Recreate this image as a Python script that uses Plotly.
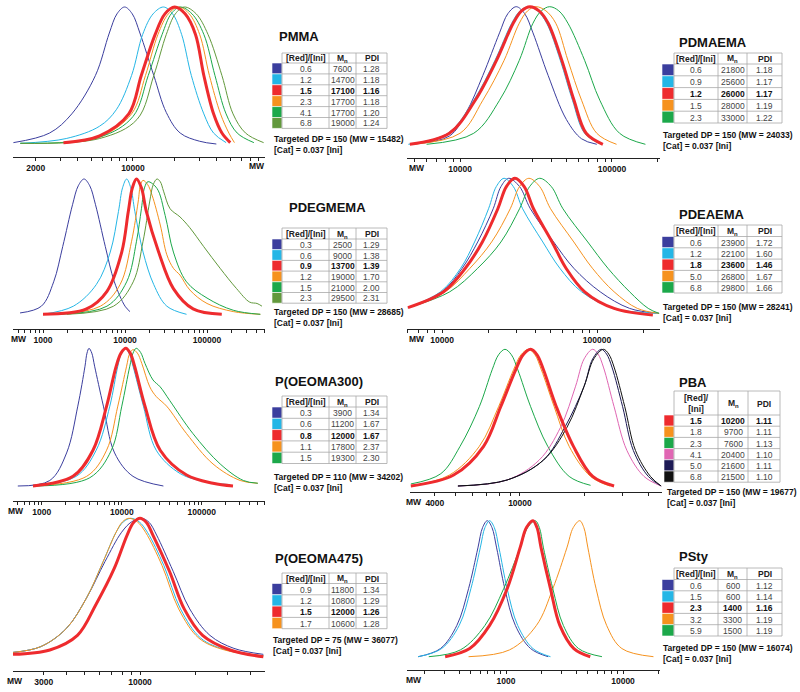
import numpy as np
import plotly.graph_objects as go

W, H = 800, 692
FONT = "Arial, Liberation Sans, sans-serif"
COLORS = dict(blue="#3B3E9E", cyan="#25B6E6", red="#EE2B2E", orange="#F6921E",
              green="#1CA84A", olive="#62993C", pink="#E066B3", navy="#1D1A55", black="#111111")

table_header = ["[Red]/[Ini]", "M<sub>n</sub>", "PDI"]
cat_text = "[Cat] = 0.037 [Ini]"

# ---------------- PMMA ----------------
pmma_ratio = ["0.6", "1.2", "1.5", "2.3", "4.1", "6.8"]
pmma_mn = ["7600", "14700", "17100", "17700", "17700", "19000"]
pmma_pdi = ["1.28", "1.18", "1.16", "1.18", "1.20", "1.24"]
pmma_color = ["blue", "cyan", "red", "orange", "green", "olive"]
pmma_logmw = [
    [3.14, 3.40, 3.56, 3.73, 3.83, 3.885, 3.94, 3.995, 4.05, 4.15, 4.24, 4.34, 4.48, 4.60],
    [3.19, 3.52, 3.76, 3.88, 3.99, 4.07, 4.145, 4.22, 4.285, 4.35, 4.42, 4.51, 4.58, 4.67],
    [3.50, 3.76, 3.97, 4.06, 4.16, 4.23, 4.30, 4.375, 4.45, 4.51, 4.58, 4.64, 4.70],
    [3.50, 3.76, 3.99, 4.09, 4.18, 4.255, 4.33, 4.405, 4.48, 4.55, 4.63, 4.69, 4.73],
    [3.19, 3.76, 4.00, 4.11, 4.21, 4.275, 4.34, 4.425, 4.51, 4.59, 4.67, 4.75, 4.87],
    [3.19, 3.76, 4.03, 4.15, 4.24, 4.305, 4.37, 4.455, 4.54, 4.64, 4.72, 4.81, 4.94],
]
pmma_int = [
    [0.01, 0.08, 0.22, 0.5, 0.81, 0.95, 1, 0.95, 0.81, 0.5, 0.23, 0.08, 0.02, 0.0],
    [0.005, 0.04, 0.13, 0.25, 0.5, 0.8, 0.95, 1, 0.95, 0.8, 0.5, 0.22, 0.08, 0.01],
    [0.01, 0.06, 0.22, 0.5, 0.8, 0.95, 1, 0.95, 0.8, 0.5, 0.22, 0.08, 0.01],
    [0.01, 0.05, 0.22, 0.5, 0.8, 0.95, 1, 0.95, 0.8, 0.5, 0.22, 0.08, 0.01],
    [0.005, 0.05, 0.2, 0.5, 0.8, 0.95, 1, 0.95, 0.8, 0.5, 0.22, 0.08, 0.01],
    [0.005, 0.04, 0.18, 0.5, 0.8, 0.95, 1, 0.95, 0.8, 0.5, 0.22, 0.08, 0.01],
]
pmma_ticks = [2000, 10000]
pmma_target = ("150", "15482")

# ---------------- PDMAEMA ----------------
pdmaema_ratio = ["0.6", "0.9", "1.2", "1.5", "2.3"]
pdmaema_mn = ["21800", "25600", "26000", "28000", "33000"]
pdmaema_pdi = ["1.18", "1.17", "1.17", "1.19", "1.22"]
pdmaema_color = ["blue", "cyan", "red", "orange", "green"]
pdmaema_logmw = [
    [3.67, 3.93, 4.04, 4.15, 4.26, 4.315, 4.37, 4.425, 4.48, 4.58, 4.70, 4.80, 4.90],
    [3.66, 3.92, 4.09, 4.23, 4.34, 4.395, 4.45, 4.51, 4.57, 4.66, 4.74, 4.82, 4.93],
    [3.67, 3.93, 4.10, 4.24, 4.35, 4.405, 4.46, 4.52, 4.58, 4.67, 4.75, 4.83, 4.94],
    [3.69, 4.00, 4.15, 4.29, 4.39, 4.445, 4.50, 4.565, 4.63, 4.71, 4.80, 4.90, 5.03],
    [3.78, 4.09, 4.26, 4.39, 4.48, 4.535, 4.59, 4.65, 4.71, 4.82, 4.92, 5.05, 5.22],
]
pdmaema_int = [
    [0, 0.06, 0.23, 0.5, 0.81, 0.95, 1, 0.95, 0.81, 0.5, 0.18, 0.04, 0],
    [0, 0.08, 0.32, 0.61, 0.88, 0.97, 1, 0.97, 0.88, 0.61, 0.32, 0.08, 0],
    [0, 0.08, 0.32, 0.61, 0.88, 0.97, 1, 0.97, 0.88, 0.61, 0.32, 0.08, 0],
    [0, 0.08, 0.32, 0.61, 0.88, 0.97, 1, 0.97, 0.88, 0.61, 0.32, 0.08, 0],
    [0, 0.08, 0.32, 0.61, 0.88, 0.97, 1, 0.97, 0.88, 0.61, 0.32, 0.08, 0],
]
pdmaema_ticks = [10000, 100000]
pdmaema_target = ("150", "24033")

# ---------------- PDEGMEMA ----------------
pdegmema_ratio = ["0.3", "0.6", "0.9", "1.2", "1.5", "2.3"]
pdegmema_mn = ["2500", "9000", "13700", "19000", "21000", "29500"]
pdegmema_pdi = ["1.29", "1.38", "1.39", "1.70", "2.00", "2.31"]
pdegmema_color = ["blue", "cyan", "red", "orange", "green", "olive"]
pdegmema_logmw = [
    [2.72, 2.98, 3.13, 3.24, 3.36, 3.43, 3.50, 3.57, 3.64, 3.76, 3.87, 4.00, 4.06],
    [3.00, 3.37, 3.65, 3.82, 3.92, 3.97, 4.02, 4.07, 4.12, 4.22, 4.35, 4.51, 4.75],
    [3.00, 3.53, 3.78, 3.96, 4.04, 4.09, 4.14, 4.20, 4.26, 4.41, 4.59, 4.83, 5.18],
    [3.17, 3.70, 3.94, 4.08, 4.16, 4.19, 4.22, 4.275, 4.33, 4.43, 4.51, 4.59, 4.67, 4.79, 5.00, 5.32, 5.65],
    [3.21, 3.78, 4.02, 4.14, 4.20, 4.24, 4.28, 4.39, 4.49, 4.59, 4.75, 5.00, 5.32, 5.65],
    [3.29, 3.86, 4.10, 4.22, 4.30, 4.345, 4.39, 4.43, 4.47, 4.55, 4.67, 4.79, 4.96, 5.16, 5.36, 5.52, 5.61, 5.67],
]
pdegmema_int = [
    [0.01, 0.06, 0.24, 0.5, 0.81, 0.95, 1, 0.95, 0.81, 0.5, 0.24, 0.06, 0.02],
    [0, 0.06, 0.22, 0.46, 0.76, 0.935, 1, 0.935, 0.76, 0.46, 0.22, 0.06, 0],
    [0, 0.04, 0.17, 0.46, 0.76, 0.935, 1, 0.935, 0.76, 0.46, 0.19, 0.04, 0],
    [0, 0.06, 0.22, 0.54, 0.83, 0.96, 0.99, 0.96, 0.88, 0.66, 0.44, 0.34, 0.29, 0.18, 0.08, 0.02, 0],
    [0, 0.06, 0.24, 0.54, 0.78, 0.94, 0.98, 0.93, 0.73, 0.46, 0.24, 0.12, 0.03, 0],
    [0, 0.06, 0.24, 0.54, 0.83, 0.96, 1, 0.98, 0.91, 0.78, 0.72, 0.64, 0.50, 0.34, 0.19, 0.09, 0.08, 0.06],
]
pdegmema_ticks = [1000, 10000, 100000]
pdegmema_target = ("150", "28685")

# ---------------- PDEAEMA ----------------
pdeaema_ratio = ["0.6", "1.2", "1.8", "5.0", "6.8"]
pdeaema_mn = ["23900", "22100", "23600", "26800", "29800"]
pdeaema_pdi = ["1.72", "1.60", "1.46", "1.67", "1.66"]
pdeaema_color = ["blue", "cyan", "red", "orange", "green"]
pdeaema_logmw = [
    [3.78, 4.00, 4.13, 4.23, 4.33, 4.38, 4.43, 4.50, 4.57, 4.72, 4.85, 5.02, 5.21, 5.40],
    [3.78, 3.99, 4.12, 4.21, 4.30, 4.35, 4.40, 4.46, 4.52, 4.65, 4.76, 4.90, 5.11, 5.40],
    [3.78, 4.01, 4.15, 4.26, 4.36, 4.415, 4.47, 4.53, 4.59, 4.71, 4.80, 4.92, 5.11, 5.36],
    [3.78, 4.02, 4.18, 4.32, 4.44, 4.50, 4.56, 4.63, 4.70, 4.85, 4.97, 5.11, 5.26, 5.40],
    [3.78, 4.05, 4.23, 4.38, 4.50, 4.565, 4.63, 4.705, 4.78, 4.94, 5.07, 5.21, 5.33, 5.40],
]
pdeaema_int = [
    [0.065, 0.18, 0.35, 0.54, 0.78, 0.94, 1, 0.94, 0.78, 0.54, 0.35, 0.18, 0.06, 0.024],
    [0.065, 0.18, 0.35, 0.54, 0.78, 0.94, 1, 0.94, 0.78, 0.54, 0.35, 0.18, 0.06, 0.024],
    [0.065, 0.18, 0.35, 0.54, 0.78, 0.94, 1, 0.94, 0.78, 0.54, 0.35, 0.18, 0.06, 0.012],
    [0.065, 0.18, 0.35, 0.54, 0.78, 0.94, 1, 0.94, 0.78, 0.54, 0.35, 0.18, 0.06, 0.024],
    [0.065, 0.18, 0.35, 0.54, 0.78, 0.94, 1, 0.94, 0.78, 0.54, 0.35, 0.18, 0.06, 0.024],
]
pdeaema_ticks = [10000, 100000]
pdeaema_target = ("150", "28241")

# ---------------- P(OEOMA300) ----------------
oeoma300_ratio = ["0.3", "0.6", "0.8", "1.1", "1.5"]
oeoma300_mn = ["3900", "11200", "12000", "17800", "19300"]
oeoma300_pdi = ["1.34", "1.67", "1.67", "2.37", "2.30"]
oeoma300_color = ["blue", "cyan", "red", "orange", "green"]
oeoma300_logmw = [
    [2.70, 3.10, 3.31, 3.45, 3.54, 3.565, 3.59, 3.625, 3.66, 3.77, 3.91, 4.14, 4.52],
    [2.89, 3.43, 3.68, 3.85, 3.95, 3.995, 4.04, 4.09, 4.14, 4.27, 4.43, 4.73, 5.06, 5.35],
    [2.89, 3.39, 3.64, 3.81, 3.93, 3.99, 4.05, 4.105, 4.16, 4.29, 4.48, 4.81, 5.14, 5.39],
    [2.89, 3.56, 3.81, 3.95, 4.06, 4.10, 4.14, 4.195, 4.25, 4.35, 4.43, 4.56, 4.81, 5.14, 5.48, 5.70],
    [2.93, 3.60, 3.87, 4.00, 4.10, 4.14, 4.18, 4.235, 4.29, 4.39, 4.48, 4.60, 4.89, 5.23, 5.52, 5.70],
]
oeoma300_int = [
    [0, 0.04, 0.24, 0.58, 0.87, 0.965, 1, 0.965, 0.87, 0.58, 0.24, 0.07, 0],
    [0, 0.07, 0.26, 0.58, 0.87, 0.965, 1, 0.965, 0.87, 0.58, 0.26, 0.09, 0.03, 0.01],
    [0, 0.07, 0.26, 0.58, 0.87, 0.965, 1, 0.965, 0.87, 0.58, 0.26, 0.08, 0.02, 0],
    [0, 0.07, 0.26, 0.58, 0.87, 0.965, 0.99, 0.965, 0.89, 0.72, 0.65, 0.58, 0.38, 0.16, 0.04, 0.02],
    [0, 0.06, 0.26, 0.58, 0.87, 0.965, 1, 0.97, 0.89, 0.77, 0.72, 0.62, 0.38, 0.16, 0.04, 0.02],
]
oeoma300_ticks = [1000, 10000, 100000]
oeoma300_target = ("110", "34202")

# ---------------- PBA ----------------
pba_ratio = ["1.5", "1.8", "2.3", "4.1", "5.0", "6.8"]
pba_mn = ["10200", "9700", "7600", "20400", "21600", "21500"]
pba_pdi = ["1.11", "1.11", "1.13", "1.10", "1.11", "1.10"]
pba_color = ["red", "orange", "green", "pink", "navy", "black"]
pba_logmw = [
    [3.49, 3.69, 3.83, 3.91, 3.98, 4.015, 4.05, 4.08, 4.11, 4.17, 4.25, 4.34, 4.44],
    [3.49, 3.67, 3.81, 3.90, 3.97, 4.005, 4.04, 4.07, 4.10, 4.16, 4.23, 4.33, 4.42],
    [3.49, 3.63, 3.72, 3.81, 3.87, 3.90, 3.93, 3.96, 3.99, 4.05, 4.13, 4.23, 4.33],
    [3.71, 3.94, 4.09, 4.19, 4.26, 4.30, 4.34, 4.365, 4.39, 4.44, 4.50, 4.58, 4.66],
    [3.71, 3.94, 4.11, 4.21, 4.30, 4.34, 4.38, 4.405, 4.43, 4.48, 4.53, 4.60, 4.66],
    [3.71, 3.94, 4.11, 4.22, 4.30, 4.345, 4.39, 4.415, 4.44, 4.49, 4.54, 4.61, 4.66],
]
pba_int = [
    [0, 0.08, 0.29, 0.58, 0.85, 0.96, 1, 0.96, 0.85, 0.58, 0.29, 0.07, 0],
    [0, 0.08, 0.29, 0.58, 0.85, 0.96, 1, 0.96, 0.85, 0.58, 0.29, 0.07, 0],
    [0.015, 0.09, 0.29, 0.58, 0.85, 0.96, 1, 0.96, 0.85, 0.58, 0.29, 0.07, 0.005],
    [0, 0.044, 0.19, 0.43, 0.73, 0.93, 1, 0.965, 0.87, 0.58, 0.26, 0.07, 0],
    [0, 0.044, 0.19, 0.43, 0.73, 0.93, 1, 0.965, 0.87, 0.58, 0.26, 0.07, 0],
    [0, 0.044, 0.19, 0.43, 0.73, 0.93, 1, 0.965, 0.87, 0.58, 0.26, 0.07, 0],
]
pba_ticks = [4000, 10000]
pba_target = ("150", "19677")

# ---------------- P(OEOMA475) ----------------
oeoma475_ratio = ["0.9", "1.2", "1.5", "1.7"]
oeoma475_mn = ["11800", "10800", "12000", "10600"]
oeoma475_pdi = ["1.34", "1.29", "1.26", "1.28"]
oeoma475_color = ["blue", "cyan", "red", "orange"]
oeoma475_logmw = [
    [3.31, 3.46, 3.60, 3.71, 3.81, 3.90, 3.955, 4.01, 4.05, 4.09, 4.18, 4.27, 4.38, 4.51, 4.67],
    [3.31, 3.46, 3.60, 3.71, 3.80, 3.87, 3.91, 3.95, 3.995, 4.04, 4.13, 4.22, 4.33, 4.47, 4.67],
    [3.31, 3.51, 3.66, 3.76, 3.86, 3.93, 3.965, 4.00, 4.035, 4.07, 4.16, 4.24, 4.34, 4.49, 4.67],
    [3.31, 3.46, 3.60, 3.71, 3.80, 3.87, 3.905, 3.94, 3.985, 4.03, 4.12, 4.21, 4.32, 4.46, 4.67],
]
oeoma475_int = [
    [0.038, 0.079, 0.21, 0.43, 0.69, 0.90, 0.975, 1, 0.97, 0.88, 0.62, 0.35, 0.16, 0.067, 0.024],
    [0.038, 0.079, 0.21, 0.43, 0.69, 0.90, 0.975, 1, 0.975, 0.90, 0.66, 0.35, 0.14, 0.055, 0.014],
    [0.024, 0.055, 0.16, 0.38, 0.64, 0.88, 0.97, 1, 0.97, 0.88, 0.62, 0.35, 0.16, 0.055, 0.007],
    [0.038, 0.079, 0.21, 0.43, 0.69, 0.90, 0.975, 1, 0.975, 0.90, 0.66, 0.35, 0.14, 0.055, 0.014],
]
oeoma475_ticks = [3000, 10000]
oeoma475_target = ("75", "36077")

# ---------------- PSty ----------------
psty_ratio = ["0.6", "1.5", "2.3", "3.2", "5.9"]
psty_mn = ["600", "600", "1400", "3300", "1500"]
psty_pdi = ["1.12", "1.14", "1.16", "1.19", "1.19"]
psty_color = ["blue", "cyan", "red", "orange", "green"]
psty_logmw = [
    [2.25, 2.44, 2.58, 2.68, 2.76, 2.80, 2.84, 2.88, 2.92, 2.99, 3.08, 3.21, 3.36],
    [2.25, 2.45, 2.60, 2.70, 2.78, 2.82, 2.86, 2.90, 2.94, 3.01, 3.10, 3.23, 3.38],
    [2.48, 2.69, 2.86, 3.01, 3.12, 3.175, 3.23, 3.265, 3.30, 3.38, 3.46, 3.58, 3.72],
    [2.68, 3.03, 3.26, 3.40, 3.52, 3.575, 3.63, 3.665, 3.70, 3.77, 3.86, 3.99, 4.26],
    [2.34, 2.61, 2.82, 2.98, 3.12, 3.185, 3.25, 3.285, 3.32, 3.40, 3.49, 3.62, 3.82],
]
psty_int = [
    [0, 0.06, 0.23, 0.5, 0.8, 0.95, 1, 0.95, 0.8, 0.5, 0.23, 0.06, 0],
    [0, 0.06, 0.23, 0.5, 0.8, 0.95, 1, 0.95, 0.8, 0.5, 0.23, 0.06, 0],
    [0, 0.06, 0.23, 0.5, 0.8, 0.95, 1, 0.95, 0.8, 0.5, 0.23, 0.06, 0],
    [0, 0.05, 0.23, 0.5, 0.8, 0.95, 1, 0.95, 0.8, 0.5, 0.23, 0.06, 0],
    [0, 0.05, 0.23, 0.5, 0.8, 0.95, 1, 0.95, 0.8, 0.5, 0.23, 0.06, 0],
]
psty_ticks = [1000, 10000]
psty_target = ("150", "16074")

# ---------------- layout geometry (pixels) ----------------
LEFT_TAB = [272, 282, 329, 356, 387]
RIGHT_TAB = [662, 674, 718, 747, 782]
GEO = {
    "PMMA": dict(x=(13, 265), y=(3, 157), base=144, peak=7, xr=(3.137, 4.95), mwx=257,
                 title=(277, 37), tab=LEFT_TAB, ttop=53, hh=10, rh=10.9, txt=(272, 138.5, 150)),
    "PDMAEMA": dict(x=(407, 660), y=(3, 158), base=144.3, peak=6.7, xr=(3.651, 5.316), mwx=417,
                    title=(677, 43), tab=RIGHT_TAB, ttop=53, hh=11, rh=11.8, txt=(661, 135, 146)),
    "PDEGMEMA": dict(x=(13, 265), y=(176, 329), base=314.3, peak=179, xr=(2.634, 5.707), mwx=19,
                     title=(287, 207), tab=LEFT_TAB, ttop=228, hh=11, rh=10.7, txt=(272, 312, 322.5)),
    "PDEAEMA": dict(x=(407, 660), y=(176, 329), base=316.7, peak=178.3, xr=(3.774, 5.406), mwx=417,
                    title=(677, 214), tab=RIGHT_TAB, ttop=225, hh=11.5, rh=11.3, txt=(661, 307, 318)),
    "P(OEOMA300)": dict(x=(13, 265), y=(345, 501), base=486, peak=348.3, xr=(2.64, 5.79), mwx=16,
                        title=(273, 381), tab=LEFT_TAB, ttop=396, hh=11, rh=11.3, txt=(272, 477, 488)),
    "PBA": dict(x=(410, 662), y=(345, 492), base=486, peak=349.3, xr=(3.486, 4.664), mwx=414,
                title=(677, 382), tab=[664, 674, 718, 748, 780], ttop=391, hh=24, rh=11.2, txt=(665, 492, 503)),
    "P(OEOMA475)": dict(x=(13, 265), y=(515, 671), base=657.7, peak=518.3, xr=(3.31, 4.679), mwx=15,
                        title=(273, 558), tab=LEFT_TAB, ttop=573, hh=10.5, rh=11.3, txt=(271, 639.5, 651)),
    "PSty": dict(x=(407, 660), y=(515, 670), base=656.7, peak=520.7, xr=(2.154, 4.316), mwx=414,
                 title=(677, 556), tab=RIGHT_TAB, ttop=568, hh=11.5, rh=11.3, txt=(661, 648, 659)),
}

PANELS = [
    ("PMMA", pmma_ratio, pmma_mn, pmma_pdi, pmma_color, pmma_logmw, pmma_int, pmma_ticks, pmma_target),
    ("PDMAEMA", pdmaema_ratio, pdmaema_mn, pdmaema_pdi, pdmaema_color, pdmaema_logmw, pdmaema_int, pdmaema_ticks, pdmaema_target),
    ("PDEGMEMA", pdegmema_ratio, pdegmema_mn, pdegmema_pdi, pdegmema_color, pdegmema_logmw, pdegmema_int, pdegmema_ticks, pdegmema_target),
    ("PDEAEMA", pdeaema_ratio, pdeaema_mn, pdeaema_pdi, pdeaema_color, pdeaema_logmw, pdeaema_int, pdeaema_ticks, pdeaema_target),
    ("P(OEOMA300)", oeoma300_ratio, oeoma300_mn, oeoma300_pdi, oeoma300_color, oeoma300_logmw, oeoma300_int, oeoma300_ticks, oeoma300_target),
    ("PBA", pba_ratio, pba_mn, pba_pdi, pba_color, pba_logmw, pba_int, pba_ticks, pba_target),
    ("P(OEOMA475)", oeoma475_ratio, oeoma475_mn, oeoma475_pdi, oeoma475_color, oeoma475_logmw, oeoma475_int, oeoma475_ticks, oeoma475_target),
    ("PSty", psty_ratio, psty_mn, psty_pdi, psty_color, psty_logmw, psty_int, psty_ticks, psty_target),
]


def PX(x):
    return x / W


def PY(y):
    return 1 - y / H


fig = go.Figure()
layout = {}
shapes = []
annotations = []
GRID = "#A8A8A8"


def ann(text, x, y, size=8.5, xanchor="center", color="#222"):
    annotations.append(dict(text=text, x=PX(x), y=PY(y), xref="paper", yref="paper",
                            showarrow=False, xanchor=xanchor, yanchor="middle",
                            font=dict(family=FONT, size=size, color=color)))


def hline(x0, x1, y):
    shapes.append(dict(type="line", xref="paper", yref="paper", x0=PX(x0), x1=PX(x1),
                       y0=PY(y), y1=PY(y), line=dict(color=GRID, width=0.8)))


def vline(x, y0, y1):
    shapes.append(dict(type="line", xref="paper", yref="paper", x0=PX(x), x1=PX(x),
                       y0=PY(y0), y1=PY(y1), line=dict(color=GRID, width=0.8)))


for i, (name, ratio, mn, pdi, color, logmw, inten, ticks, target) in enumerate(PANELS, start=1):
    g = GEO[name]
    xa = "x" if i == 1 else f"x{i}"
    ya = "y" if i == 1 else f"y{i}"
    xkey = "xaxis" if i == 1 else f"xaxis{i}"
    ykey = "yaxis" if i == 1 else f"yaxis{i}"
    x0, x1 = g["x"]
    top, bot = g["y"]
    scale = g["base"] - g["peak"]
    yr = [-(bot - g["base"]) / scale, 1 + (g["peak"] - top) / scale]
    lo, hi = g["xr"]
    tv, tt = [], []
    for n in range(int(np.floor(lo)), int(np.ceil(hi)) + 1):
        for k in range(1, 10):
            v = k * 10 ** n
            lv = np.log10(v)
            if lo - 1e-9 <= lv <= hi + 1e-9:
                tv.append(v)
                tt.append(str(v) if v in ticks else "")
    layout[xkey] = dict(type="log", domain=[PX(x0), PX(x1)], range=[lo, hi], anchor=ya,
                        showline=True, linecolor="#222", linewidth=1, ticks="outside",
                        ticklen=3, tickwidth=1, tickcolor="#222", tickmode="array",
                        tickvals=tv, ticktext=tt, tickangle=0,
                        tickfont=dict(size=8.5, family=FONT, color="#111", weight="bold"),
                        showgrid=False, zeroline=False, fixedrange=True)
    layout[ykey] = dict(domain=[PY(bot), PY(top)], range=yr, anchor=xa, visible=False,
                        showgrid=False, zeroline=False, fixedrange=True)

    order = [j for j, c in enumerate(color) if c != "red"] + [j for j, c in enumerate(color) if c == "red"]
    for j in order:
        c = color[j]
        fig.add_trace(go.Scatter(
            x=10 ** np.array(logmw[j]), y=inten[j], xaxis=xa, yaxis=ya, mode="lines",
            line=dict(color=COLORS[c], width=3 if c == "red" else 1, shape="spline", smoothing=1.0),
            showlegend=False, hoverinfo="skip"))

    # MW label
    ann("<b>MW</b>", g["mwx"], bot + 9.5, size=8.5, color="#111")
    # title
    ann(f"<b>{name}</b>", g["title"][0], g["title"][1], size=13, xanchor="left", color="#111")

    # table
    tx = g["tab"]
    ttop, hh, rh = g["ttop"], g["hh"], g["rh"]
    nrow = len(ratio)
    hb = ttop + hh
    tbot = hb + nrow * rh
    for r in range(nrow):
        shapes.append(dict(type="rect", xref="paper", yref="paper",
                           x0=PX(tx[0]), x1=PX(tx[1]), y0=PY(hb + r * rh), y1=PY(hb + (r + 1) * rh),
                           fillcolor=COLORS[color[r]], line=dict(color="white", width=0.6)))
    hline(tx[1], tx[4], ttop)
    for r in range(nrow + 1):
        hline(tx[1], tx[4], hb + r * rh)
    for xv in tx[1:]:
        vline(xv, ttop, tbot)
    hdr0 = "[Red]/<br>[Ini]" if name == "PBA" else table_header[0]
    hdrs = [hdr0, table_header[1], table_header[2]]
    for cidx in range(3):
        ann(f"<b>{hdrs[cidx]}</b>", (tx[cidx + 1] + tx[cidx + 2]) / 2, ttop + hh / 2 + 0.5,
            size=8.5, color="#222")
    for r in range(nrow):
        yc = hb + (r + 0.5) * rh + 0.5
        vals = [ratio[r], mn[r], pdi[r]]
        bold = color[r] == "red"
        for cidx in range(3):
            t = f"<b>{vals[cidx]}</b>" if bold else vals[cidx]
            ann(t, (tx[cidx + 1] + tx[cidx + 2]) / 2, yc, size=8.5,
                color="#111" if bold else "#444")
    # footer text
    tx0, ty1, ty2 = g["txt"]
    ann(f"<b>Targeted DP = {target[0]} (MW = {target[1]})</b>", tx0, ty1, size=8.5, xanchor="left", color="#111")
    ann(f"<b>{cat_text}</b>", tx0, ty2, size=8.5, xanchor="left", color="#111")

fig.update_layout(width=W, height=H, margin=dict(l=0, r=0, t=0, b=0),
                  paper_bgcolor="white", plot_bgcolor="rgba(0,0,0,0)",
                  showlegend=False, shapes=shapes, annotations=annotations, **layout)
fig.write_html("out.html", config={"displayModeBar": False},
               post_script="document.body.style.margin='0px';")
